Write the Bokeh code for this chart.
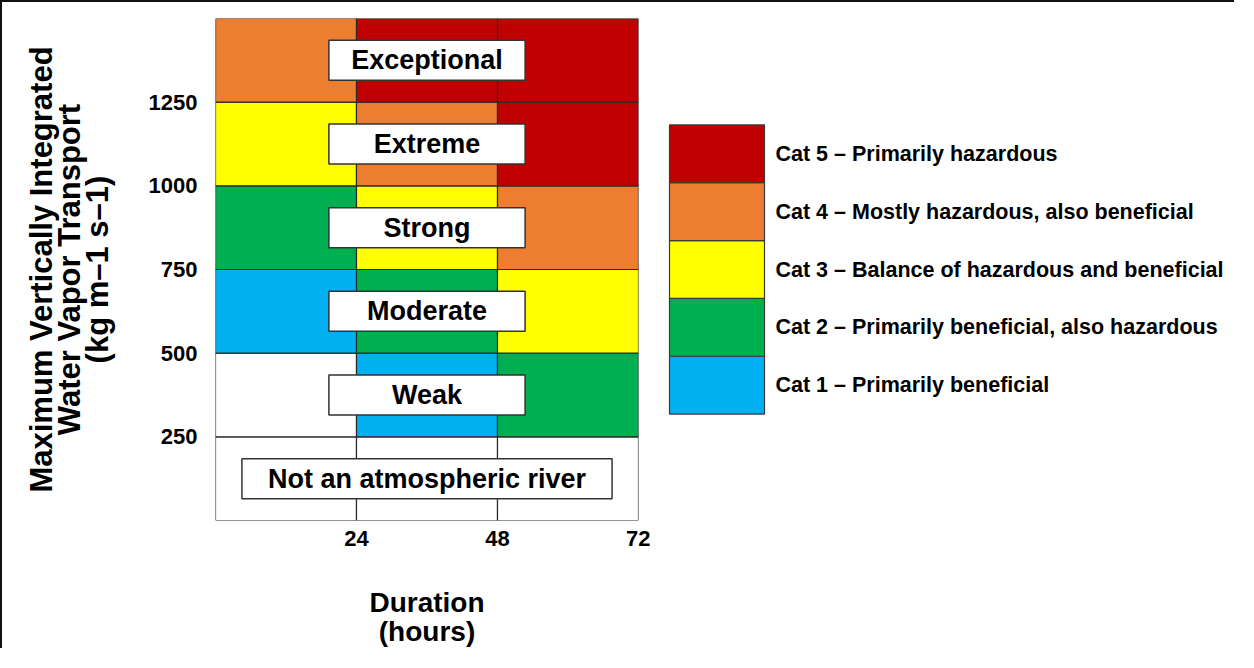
from bokeh.plotting import figure
from bokeh.layouts import row
from bokeh.models import ColumnDataSource, FixedTicker, FactorRange, Range1d
from bokeh.core.properties import value
from bokeh.embed import file_html
from bokeh.resources import INLINE

FONT = "Liberation Sans"

# ---- data ----
duration_edges = [0, 24, 48, 72]                      # hours
ivt_edges = [0, 250, 500, 750, 1000, 1250, 1500]      # kg m-1 s-1
# category of each cell, rows = IVT bands (bottom->top), cols = duration bands
category_grid = [
    [0, 0, 0],
    [0, 1, 2],
    [1, 2, 3],
    [2, 3, 4],
    [3, 4, 5],
    [4, 5, 5],
]
category_names = [
    "Cat 1 \u2013 Primarily beneficial",
    "Cat 2 \u2013 Primarily beneficial, also hazardous",
    "Cat 3 \u2013 Balance of hazardous and beneficial",
    "Cat 4 \u2013 Mostly hazardous, also beneficial",
    "Cat 5 \u2013 Primarily hazardous",
]
category_colors = ["#FFFFFF", "#00B0F0", "#00B050", "#FFFF00", "#ED7D31", "#C00000"]
strength_names = ["Not an atmospheric river", "Weak", "Moderate", "Strong",
                  "Extreme", "Exceptional"]
strength_box_widths = [63.0, 33.4, 33.4, 33.4, 33.4, 33.4]   # hours
y_ticks = [250, 500, 750, 1000, 1250]
x_ticks = [24, 48, 72]

CELL_LINE = "#2a2a2a"
H = 648

# ---- main chart ----
p = figure(width=650, height=H, output_backend="svg", toolbar_location=None,
           x_range=Range1d(0, 72), y_range=Range1d(0, 1500),
           min_border_left=213, min_border_right=14,
           min_border_top=16, min_border_bottom=H - 518)
p.styles = {"border-top": "2px solid #111111", "border-left": "2px solid #111111"}
p.outline_line_color = None
p.xgrid.visible = False
p.ygrid.visible = False
p.background_fill_color = "white"
p.border_fill_color = "white"

for cat in range(6):
    left, right, bottom, top = [], [], [], []
    for i, r in enumerate(category_grid):
        for j, c in enumerate(r):
            if c == cat:
                left.append(duration_edges[j]); right.append(duration_edges[j + 1])
                bottom.append(ivt_edges[i]); top.append(ivt_edges[i + 1])
    src = ColumnDataSource(dict(left=left, right=right, bottom=bottom, top=top))
    p.quad(left="left", right="right", bottom="bottom", top="top", source=src,
           fill_color=category_colors[cat], line_color=CELL_LINE, line_width=1.2)

# strength labels in white boxes
mids = [(ivt_edges[k] + ivt_edges[k + 1]) / 2 for k in range(len(strength_names))]
center_x = [36] * len(strength_names)
lsrc = ColumnDataSource(dict(x=center_x, y=mids, w=strength_box_widths, t=strength_names))
p.rect(x="x", y="y", width="w", height=40, height_units="screen", source=lsrc,
       fill_color="white", line_color="#333333", line_width=1.5)
p.text(x="x", y="y", text="t", source=lsrc, text_align="center", text_baseline="middle",
       text_font=value(FONT), text_font_style="bold", text_font_size="27px",
       text_color="black")

for ax in (p.xaxis[0], p.yaxis[0]):
    ax.axis_line_color = None
    ax.major_tick_line_color = None
    ax.minor_tick_line_color = None
    ax.major_label_text_font = FONT
    ax.major_label_text_font_style = "bold"
    ax.major_label_text_font_size = "22px"
    ax.major_label_text_color = "black"
    ax.axis_label_text_font = FONT
    ax.axis_label_text_font_style = "bold"
    ax.axis_label_text_color = "black"

p.xaxis.ticker = FixedTicker(ticks=x_ticks)
p.yaxis.ticker = FixedTicker(ticks=y_ticks)
p.xaxis.major_label_standoff = 4
p.yaxis.major_label_standoff = 12
p.xaxis.axis_label = "Duration\n(hours)"
p.xaxis.axis_label_text_font_size = "28px"
p.xaxis.axis_label_text_line_height = 0.95
p.xaxis.axis_label_standoff = 38
p.yaxis.axis_label = "Maximum Vertically Integrated\nWater Vapor Transport\n(kg m\u20131 s\u20131)"
p.yaxis.axis_label_text_font_size = "31px"
p.yaxis.axis_label_text_line_height = 0.8
p.yaxis.axis_label_standoff = 31

# ---- legend panel: one categorical row per category (frame aligned with main chart) ----
q = figure(width=584, height=H, output_backend="svg", toolbar_location=None,
           x_range=Range1d(0, 584),
           y_range=FactorRange(factors=category_names, range_padding=1.84,
                               range_padding_units="absolute"),
           x_axis_location=None, y_axis_location=None,
           min_border_left=0, min_border_right=0, min_border_top=0, min_border_bottom=0)
q.styles = {"border-top": "2px solid #111111"}
q.outline_line_color = None
q.xgrid.visible = False
q.ygrid.visible = False
q.background_fill_color = "white"
q.border_fill_color = "white"

leg = ColumnDataSource(dict(cat=category_names, color=category_colors[1:],
                            swatch_left=[19] * 5, swatch_right=[114] * 5,
                            text_x=[125] * 5))
q.hbar(y="cat", left="swatch_left", right="swatch_right", height=1.0, source=leg,
       fill_color="color", line_color="#3a3a3a", line_width=1.2)
q.text(x="text_x", y="cat", text="cat", source=leg, text_align="left",
       text_baseline="middle", text_font=value(FONT), text_font_style="bold",
       text_font_size="21.5px", text_color="black")

layout = row(p, q, spacing=0)
open("out.html", "w").write(file_html(layout, INLINE))
